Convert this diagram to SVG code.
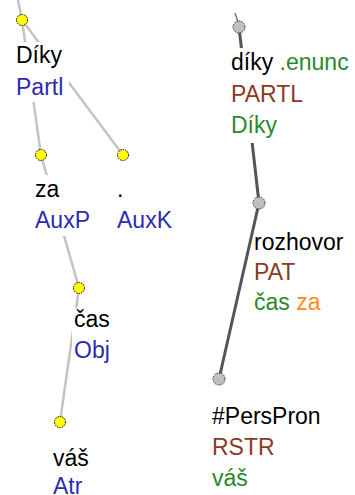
<svg xmlns="http://www.w3.org/2000/svg" width="355" height="495" viewBox="0 0 355 495">
<style>
text{font-family:"Liberation Sans",Arial,sans-serif;font-size:23px}
.w{fill:#000}.f{fill:#2b2bb5}.fn{fill:#8b3a1f}.g{fill:#2a8a2a}.o{fill:#ff8c1a}
.bg{fill:#fff}
.ea{stroke:#c4c4c4;stroke-width:2.5;fill:none}
.et{stroke:#555;stroke-width:3;fill:none}
.ny{fill:#ffff00;stroke:#000;stroke-width:1;stroke-dasharray:1.5 1}
.ng{fill:#c0c0c0;stroke:#333;stroke-width:1;stroke-dasharray:1.5 1}
</style>
<rect width="355" height="495" fill="#fff"/>
<g id="connectors">
<line class="ea" x1="18" y1="0" x2="22" y2="20"/>
<line class="ea" x1="22" y1="20" x2="41" y2="155"/>
<line class="ea" x1="22" y1="20" x2="123" y2="155"/>
<line class="ea" x1="41" y1="155" x2="79" y2="288"/>
<line class="ea" x1="79" y1="288" x2="60" y2="422"/>
<line stroke="#777" stroke-width="1.5" x1="235" y1="13" x2="238" y2="22"/>
<line class="et" x1="239" y1="27" x2="259" y2="203"/>
<line class="et" x1="259" y1="203" x2="219" y2="379"/>
</g>
<g id="n-diky">
<rect class="bg" x="14" y="42" width="55" height="60"/>
<circle class="ny" cx="22" cy="20" r="5.5"/>
<text x="16" y="63" class="w">Díky</text>
<text x="16" y="95" class="f">Partl</text>
</g>
<g id="n-za">
<rect class="bg" x="33" y="175" width="62" height="61"/>
<circle class="ny" cx="41" cy="155" r="5.5"/>
<text x="35" y="197" class="w">za</text>
<text x="35" y="228" class="f">AuxP</text>
</g>
<g id="n-dot">
<rect class="bg" x="115" y="175" width="60" height="61"/>
<circle class="ny" cx="123" cy="155" r="5.5"/>
<text x="117" y="197" class="w">.</text>
<text x="117" y="228" class="f">AuxK</text>
</g>
<g id="n-cas">
<rect class="bg" x="72" y="308" width="46" height="57"/>
<circle class="ny" cx="79" cy="288" r="5.5"/>
<text x="74" y="327" class="w">čas</text>
<text x="74" y="358" class="f">Obj</text>
</g>
<g id="n-vas">
<rect class="bg" x="51" y="444" width="46" height="51"/>
<circle class="ny" cx="60" cy="422" r="5.5"/>
<text x="53" y="466" class="w">váš</text>
<text x="53" y="494" class="f">Atr</text>
</g>
<g id="t-diky">
<rect class="bg" x="229" y="48" width="126" height="95"/>
<circle class="ng" cx="239" cy="27" r="6"/>
<text x="231" y="70"><tspan class="w">díky</tspan> <tspan class="g">.enunc</tspan></text>
<text x="231" y="102" class="fn">PARTL</text>
<text x="231" y="133" class="g">Díky</text>
</g>
<g id="t-rozhovor">
<rect class="bg" x="254" y="230" width="96" height="88"/>
<circle class="ng" cx="259" cy="203" r="6"/>
<text x="254" y="250" class="w">rozhovor</text>
<text x="254" y="280" class="fn">PAT</text>
<text x="254" y="310"><tspan class="g">čas</tspan> <tspan class="o">za</tspan></text>
</g>
<g id="t-perspron">
<rect class="bg" x="210" y="402" width="120" height="93"/>
<circle class="ng" cx="219" cy="379" r="6"/>
<text x="212" y="424" class="w">#PersPron</text>
<text x="212" y="455" class="fn">RSTR</text>
<text x="212" y="486" class="g">váš</text>
</g>
</svg>
